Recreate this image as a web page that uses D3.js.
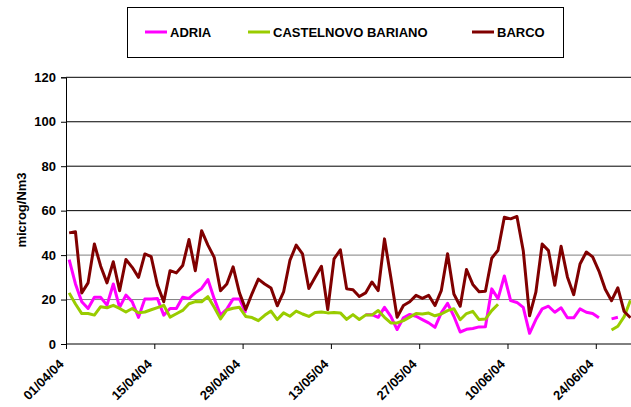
<!DOCTYPE html>
<html>
<head>
<meta charset="utf-8">
<script src="https://cdn.jsdelivr.net/npm/d3@7"></script>
<style>
  body { margin: 0; background: #fff; }
  svg { display: block; font-family: "Liberation Sans", Arial, sans-serif; font-weight: bold; }
</style>
</head>
<body>
<svg id="chart" width="631" height="407"></svg>
<script>
// daily values from 01/04/04, null = no data
const adria = [
  38, 27, 19, 16, 21, 21, 17.5, 27, 16.5, 22,
  19, 12, 20.3, 20.3, 20.5, 13, 16, 16, 21, 20.5,
  23, 25, 29, 20.4, 13, 15.7, 20.3, 20.3, 14, null,
  null, null, null, null, null, null, null, null, null, null,
  null, null, null, null, null, null, null, 13.2, 13.2, 12,
  16.5, 12.4, 6.5, 11.8, 13.3, 12.5, 11, 9.5, 7.5, 14,
  18.3, 12.5, 5.4, 6.6, 7, 7.7, 7.8, 24.8, 20.4, 30.6,
  19.5, 18.7, 16.5, 4.8, 11, 15.8, 17, 14.3, 16.3, 11.8,
  11.8, 15.8, 14.3, 13.7, 11.8, null, 11.3, 12, null, null
];
const castelnovo = [
  23, 18, 13.7, 13.7, 13, 16.8, 16.3, 17.4, 16, 14.4,
  16, 14, 14.4, 15.4, 16.4, 17.4, 12.1, 13.6, 15.1, 18.1,
  19.1, 19, 21.3, 16.5, 11.3, 15.3, 16.1, 16.5, 12.4, 11.9,
  10.5, 12.9, 14.8, 11, 14, 12.5, 14.8, 13.5, 12.4, 14.2,
  14.4, 14, 14.2, 14, 11.1, 13.2, 11, 13, 13, 15.1,
  12, 9.5, 9.5, 10.5, 12.1, 13.7, 13.5, 13.9, 12.7, 13.5,
  15, 15.9, 10.9, 13.7, 14.7, 11, 11.2, 15, 17.9, null,
  null, null, null, null, null, null, null, null, null, null,
  null, null, null, null, null, null, 6.3, 8, 12.3, 19.7
];
const barco = [
  50, 50.5, 23, 27.5, 45, 35, 27.5, 37, 24, 38,
  34.5, 30, 40.5, 39.3, 26.5, 19, 33, 32, 35.3, 47,
  33, 51, 44.5, 39, 24, 27, 34.7, 23, 15.5, 22.7,
  29.2, 27, 25.2, 17.2, 23.4, 37.6, 44.5, 40.5, 25, 30,
  35, 15.5, 38.3, 42.4, 24.8, 24.4, 21.4, 23, 27.9, 24,
  47.3, 30, 12, 17.3, 19, 21.9, 20.5, 21.9, 17.3, 24,
  40.6, 22.5, 17, 33.5, 26.8, 23.5, 23.7, 38.6, 42.2, 57,
  56.3, 57.4, 42, 12.7, 23.3, 45, 42, 26.4, 44, 30.2,
  22.2, 36, 41.4, 39.2, 32.8, 24.6, 19.5, 25.3, 14.6, 11.8
];
const seriesNames = ["ADRIA", "CASTELNOVO BARIANO", "BARCO"];
const seriesColors = ["#ff00ff", "#99cc00", "#800000"];
const yTicks = [0, 20, 40, 60, 80, 100, 120];

const startDate = new Date(2004, 3, 1);
const endDate = new Date(2004, 6, 1);
const days = d3.timeDay.range(startDate, endDate);
const xTicks = d3.timeDay.range(startDate, endDate, 14);

const svg = d3.select("#chart");
const plotLeft = 66, plotTop = 77.3, plotBottom = 344;
const dayW = 6.307;

const x = d3.scaleTime()
    .domain([startDate, endDate])
    .range([plotLeft, plotLeft + days.length * dayW]);
const y = d3.scaleLinear().domain([0, 120]).range([plotBottom, plotTop]);

// gridlines
svg.append("g")
    .selectAll("line")
    .data(yTicks.filter(t => t > 0))
    .join("line")
    .attr("x1", plotLeft).attr("x2", 631)
    .attr("y1", d => y(d)).attr("y2", d => y(d))
    .attr("stroke", d => d < 60 ? "#808080" : "#000")
    .attr("stroke-width", 1);

// y axis
const yAxis = svg.append("g")
    .attr("transform", `translate(${plotLeft},0)`)
    .call(d3.axisLeft(y).tickValues(yTicks).tickSize(5).tickPadding(5));
yAxis.select(".domain").attr("stroke", "#000");
yAxis.selectAll("line").attr("stroke", "#000");
yAxis.selectAll("text")
    .attr("font-size", 13).attr("font-weight", "bold")
    .attr("font-family", "Liberation Sans, Arial, sans-serif")
    .attr("fill", "#000");

// x axis
const xAxis = svg.append("g")
    .attr("transform", `translate(0,${plotBottom})`)
    .call(d3.axisBottom(x).tickValues(xTicks).tickSize(5).tickFormat(d3.timeFormat("%d/%m/%y")));
xAxis.select(".domain").attr("stroke", "#000").attr("d", `M${plotLeft},0H631`);
xAxis.selectAll("line").attr("stroke", "#000");
xAxis.selectAll("text")
    .attr("font-size", 13).attr("font-weight", "bold")
    .attr("font-family", "Liberation Sans, Arial, sans-serif")
    .attr("fill", "#000")
    .attr("text-anchor", "end")
    .attr("dy", null)
    .attr("y", 0)
    .attr("transform", "translate(-2,21) rotate(-45)");

// y label
svg.append("text")
    .attr("transform", "translate(26,210) rotate(-90)")
    .attr("text-anchor", "middle")
    .attr("font-size", 13)
    .text("microg/Nm3");

// lines
const line = d3.line()
    .defined(d => d.v != null)
    .x(d => x(d3.timeHour.offset(d.date, 12)))
    .y(d => y(d.v));

const allSeries = [adria, castelnovo, barco];
const plot = svg.append("g");
allSeries.forEach((vals, i) => {
    const pts = vals.map((v, k) => ({ date: days[k], v: v }));
    plot.append("path")
        .datum(pts)
        .attr("fill", "none")
        .attr("stroke", seriesColors[i])
        .attr("stroke-width", 3)
        .attr("stroke-linejoin", "round")
        .attr("d", line);
});

// legend
const legend = svg.append("g");
legend.append("rect")
    .attr("x", 127.5).attr("y", 7.5)
    .attr("width", 436).attr("height", 50)
    .attr("fill", "#fff").attr("stroke", "#000");
const legendX = [145, 248, 472];
seriesNames.forEach((name, i) => {
    legend.append("line")
        .attr("x1", legendX[i]).attr("x2", legendX[i] + 22)
        .attr("y1", 32).attr("y2", 32)
        .attr("stroke", seriesColors[i]).attr("stroke-width", 3);
    legend.append("text")
        .attr("x", legendX[i] + 25).attr("y", 37)
        .attr("font-size", 13)
        .text(name);
});
</script>
</body>
</html>
